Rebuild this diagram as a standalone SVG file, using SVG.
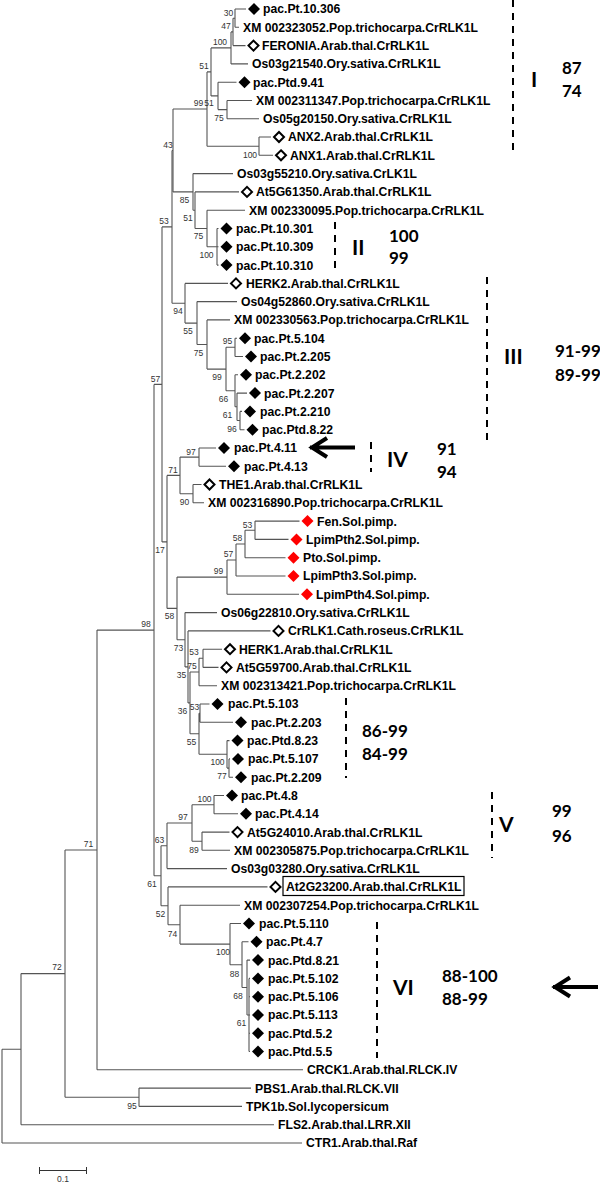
<svg xmlns="http://www.w3.org/2000/svg" xmlns:xlink="http://www.w3.org/1999/xlink" width="600" height="1182" viewBox="0 0 600 1182">
<style>
.lf{font-family:"Liberation Sans",Arial,sans-serif;font-weight:bold;font-size:12.2px;fill:#000}
.bs{font-family:"Liberation Sans",Arial,sans-serif;font-size:8.5px;fill:#333;text-anchor:middle}
.tr{fill:none;stroke:#555;stroke-width:1.1}
.cl{fill:none;stroke:#000;stroke-width:2;stroke-dasharray:7 6}
.rn{font-family:Lato,"Open Sans",sans-serif;font-weight:bold;font-size:21px;fill:#000}
.nm{font-family:Lato,"Open Sans",sans-serif;font-weight:bold;font-size:17px;fill:#000}
.f{fill:#000}
.o{fill:#fff;stroke:#000;stroke-width:2}
.r{fill:#f00}
</style>
<defs>
<path id="df" d="M0,-6L6,0L0,6L-6,0Z"/>
<path id="do" d="M0,-5L5,0L0,5L-5,0Z"/>
<path id="arr" d="M0,0H45M17,-9.5L2,0L17,9.5" fill="none" stroke="#000" stroke-width="4"/>
</defs>
<g id="connectors">
<path class="tr" d="M235,9V27.3M235,9H246M235,27.3H239 M233,18.2V45.6M233,18.2H235M233,45.6H245.5 M231,31.9V63.9M231,31.9H233M231,63.9H248 M227,100.5V118.7M227,100.5H252M227,118.7H259 M218,82.2V109.6M218,82.2H236.5M218,109.6H227 M211,47.9V95.9M211,47.9H231M211,95.9H218 M259,137V155.3M259,137H271M259,155.3H273 M207,71.9V146.2M207,71.9H211M207,146.2H259"/>
<path class="tr" d="M217,228.5V265.1M217,228.5H218.5M217,246.8H218.5M217,265.1H218.5 M207,210.2V246.8M207,210.2H245M207,246.8H217 M195,191.9V228.5M195,191.9H239M195,228.5H207 M193,173.6V210.2M193,173.6H233M193,210.2H195 M173,109V191.9M173,109H207M173,191.9H193"/>
<path class="tr" d="M235,338.2V356.5M235,338.2H237M235,356.5H243 M240,411.4V429.7M240,411.4H242M240,429.7H244.5 M237,393.1V420.5M237,393.1H247M237,420.5H240 M235,374.8V406.8M235,374.8H238M235,406.8H237 M226,347.3V390.8M226,347.3H235M226,390.8H235 M207,319.9V369.1M207,319.9H230M207,369.1H226 M197,301.6V344.5M197,301.6H237M197,344.5H207 M185,283.4V323.1M185,283.4H228M185,323.1H197 M172,150.5V303.2M172,150.5H173M172,303.2H185"/>
<path class="tr" d="M199,448V466.3M199,448H216M199,466.3H226 M193,484.5V502.8M193,484.5H201.5M193,502.8H204 M180,457.1V493.7M180,457.1H199M180,493.7H193"/>
<path class="tr" d="M255,521.1V539.4M255,521.1H299.5M255,539.4H288.5 M245,530.3V557.7M245,530.3H255M245,557.7H285.5 M236,544V576M236,544H245M236,576H285.5 M227,560V594.3M227,560H236M227,594.3H299"/>
<path class="tr" d="M203,649.2V667.4M203,649.2H222M203,667.4H218.5 M199,658.3V685.7M199,658.3H203M199,685.7H217 M200,704V722.3M200,704H209.5M200,722.3H233 M229,758.9V777.2M229,758.9H230M229,777.2H233 M227,740.6V768.1M227,740.6H229.5M227,768.1H229 M199,713.2V754.3M199,713.2H200M199,754.3H227 M190,672V733.8M190,672H199M190,733.8H199 M188,630.9V702.9M188,630.9H270.5M188,702.9H190 M185,612.6V666.9M185,612.6H217M185,666.9H188 M177,577.1V639.8M177,577.1H227M177,639.8H185 M167,475.4V608.4M167,475.4H180M167,608.4H177 M162,226.9V541.9M162,226.9H172M162,541.9H167"/>
<path class="tr" d="M214,795.5V813.8M214,795.5H224M214,813.8H238 M202,832.1V850.3M202,832.1H229.5M202,850.3H230 M192,804.7V841.2M192,804.7H214M192,841.2H202 M167,823V868.6M167,823H192M167,868.6H227"/>
<path class="tr" d="M249,978.4V1051.5M249,978.4H250M249,996.7H250M249,1015H250M249,1033.2H250M249,1051.5H250 M247,960.1V1015M247,960.1H250M247,1015H249 M242,941.8V987.5M242,941.8H248.5M242,987.5H247 M230,923.5V964.7M230,923.5H241M230,964.7H242 M180,905.2V944.1M180,905.2H240M180,944.1H230 M168,886.9V924.7M168,886.9H267.5M168,924.7H180 M161,845.8V905.8M161,845.8H167M161,905.8H168 M154,384.4V875.8M154,384.4H162M154,875.8H161"/>
<path class="tr" d="M97,630.1V1069.8M97,630.1H154M97,1069.8H303 M139,1088.1V1106.4M139,1088.1H251M139,1106.4H242 M65,850V1097.3M65,850H97M65,1097.3H139 M21,973.6V1124.7M21,973.6H65M21,1124.7H274 M2,1049.2V1143M2,1049.2H21M2,1143H302"/>
</g>
<g id="bootstrap">
<text class="bs" x="228.5" y="15.5">30</text>
<text class="bs" x="226" y="28.5">47</text>
<text class="bs" x="220" y="45">100</text>
<text class="bs" x="204" y="68.5">51</text>
<text class="bs" x="198.5" y="106">99</text>
<text class="bs" x="209" y="106">51</text>
<text class="bs" x="219" y="121">75</text>
<text class="bs" x="168" y="147.5">43</text>
<text class="bs" x="250" y="157.5">100</text>
<text class="bs" x="184.5" y="203">85</text>
<text class="bs" x="188" y="221">51</text>
<text class="bs" x="198.5" y="239">75</text>
<text class="bs" x="206.5" y="257.5">100</text>
<text class="bs" x="164" y="223.5">53</text>
<text class="bs" x="178" y="314">94</text>
<text class="bs" x="188" y="334">55</text>
<text class="bs" x="198.5" y="356">75</text>
<text class="bs" x="227.5" y="344">95</text>
<text class="bs" x="217" y="380">99</text>
<text class="bs" x="155.5" y="382">57</text>
<text class="bs" x="223.5" y="401.5">66</text>
<text class="bs" x="227.5" y="418">61</text>
<text class="bs" x="232" y="432">96</text>
<text class="bs" x="191" y="454.5">97</text>
<text class="bs" x="173" y="472.5">71</text>
<text class="bs" x="184.5" y="504.5">90</text>
<text class="bs" x="160" y="553">17</text>
<text class="bs" x="247.5" y="527.5">53</text>
<text class="bs" x="237.5" y="541">58</text>
<text class="bs" x="228.5" y="557">57</text>
<text class="bs" x="218.5" y="574">99</text>
<text class="bs" x="146" y="627">98</text>
<text class="bs" x="169.5" y="619">58</text>
<text class="bs" x="178.5" y="651">73</text>
<text class="bs" x="194" y="655">53</text>
<text class="bs" x="192" y="669">75</text>
<text class="bs" x="181.5" y="678">35</text>
<text class="bs" x="182.5" y="713.5">36</text>
<text class="bs" x="194.5" y="710">53</text>
<text class="bs" x="191.5" y="745">55</text>
<text class="bs" x="217.5" y="765">100</text>
<text class="bs" x="222" y="779">77</text>
<text class="bs" x="88.5" y="847">71</text>
<text class="bs" x="204.5" y="802">100</text>
<text class="bs" x="183" y="820">97</text>
<text class="bs" x="159.5" y="843">63</text>
<text class="bs" x="194" y="853">89</text>
<text class="bs" x="152" y="887">61</text>
<text class="bs" x="160.5" y="917">52</text>
<text class="bs" x="172.5" y="937">74</text>
<text class="bs" x="223" y="955">100</text>
<text class="bs" x="234.5" y="977">88</text>
<text class="bs" x="238" y="999">68</text>
<text class="bs" x="241.5" y="1026">61</text>
<text class="bs" x="57" y="970">72</text>
<text class="bs" x="132" y="1109">95</text>
</g>
<g id="L01"><use href="#df" class="f" x="254" y="9"/><text class="lf" x="263" y="13.4">pac.Pt.10.306</text></g>
<g id="L02"><text class="lf" x="243" y="31.7">XM 002323052.Pop.trichocarpa.CrRLK1L</text></g>
<g id="L03"><use href="#do" class="o" x="253.5" y="45.6"/><text class="lf" x="262" y="50">FERONIA.Arab.thal.CrRLK1L</text></g>
<g id="L04"><text class="lf" x="252" y="68.3">Os03g21540.Ory.sativa.CrRLK1L</text></g>
<g id="L05"><use href="#df" class="f" x="244.5" y="82.2"/><text class="lf" x="253" y="86.6">pac.Ptd.9.41</text></g>
<g id="L06"><text class="lf" x="256" y="104.9">XM 002311347.Pop.trichocarpa.CrRLK1L</text></g>
<g id="L07"><text class="lf" x="263" y="123.1">Os05g20150.Ory.sativa.CrRLK1L</text></g>
<g id="L08"><use href="#do" class="o" x="279" y="137"/><text class="lf" x="288" y="141.4">ANX2.Arab.thal.CrRLK1L</text></g>
<g id="L09"><use href="#do" class="o" x="281" y="155.3"/><text class="lf" x="290" y="159.7">ANX1.Arab.thal.CrRLK1L</text></g>
<g id="L10"><text class="lf" x="237" y="178">Os03g55210.Ory.sativa.CrLK1L</text></g>
<g id="L11"><use href="#do" class="o" x="247" y="191.9"/><text class="lf" x="256" y="196.3">At5G61350.Arab.thal.CrRLK1L</text></g>
<g id="L12"><text class="lf" x="249" y="214.6">XM 002330095.Pop.trichocarpa.CrRLK1L</text></g>
<g id="L13"><use href="#df" class="f" x="226.5" y="228.5"/><text class="lf" x="236" y="232.9">pac.Pt.10.301</text></g>
<g id="L14"><use href="#df" class="f" x="226.5" y="246.8"/><text class="lf" x="236" y="251.2">pac.Pt.10.309</text></g>
<g id="L15"><use href="#df" class="f" x="226.5" y="265.1"/><text class="lf" x="236" y="269.5">pac.Pt.10.310</text></g>
<g id="L16"><use href="#do" class="o" x="236" y="283.4"/><text class="lf" x="246" y="287.8">HERK2.Arab.thal.CrRLK1L</text></g>
<g id="L17"><text class="lf" x="241" y="306">Os04g52860.Ory.sativa.CrRLK1L</text></g>
<g id="L18"><text class="lf" x="234" y="324.3">XM 002330563.Pop.trichocarpa.CrRLK1L</text></g>
<g id="L19"><use href="#df" class="f" x="245" y="338.2"/><text class="lf" x="254" y="342.6">pac.Pt.5.104</text></g>
<g id="L20"><use href="#df" class="f" x="251" y="356.5"/><text class="lf" x="260" y="360.9">pac.Pt.2.205</text></g>
<g id="L21"><use href="#df" class="f" x="246" y="374.8"/><text class="lf" x="255" y="379.2">pac.Pt.2.202</text></g>
<g id="L22"><use href="#df" class="f" x="255" y="393.1"/><text class="lf" x="264" y="397.5">pac.Pt.2.207</text></g>
<g id="L23"><use href="#df" class="f" x="250" y="411.4"/><text class="lf" x="260" y="415.8">pac.Pt.2.210</text></g>
<g id="L24"><use href="#df" class="f" x="252.5" y="429.7"/><text class="lf" x="262" y="434.1">pac.Ptd.8.22</text></g>
<g id="L25"><use href="#df" class="f" x="224" y="448"/><text class="lf" x="234" y="452.4">pac.Pt.4.11</text></g>
<g id="L26"><use href="#df" class="f" x="234" y="466.3"/><text class="lf" x="244" y="470.7">pac.Pt.4.13</text></g>
<g id="L27"><use href="#do" class="o" x="209.5" y="484.5"/><text class="lf" x="219" y="488.9">THE1.Arab.thal.CrRLK1L</text></g>
<g id="L28"><text class="lf" x="208" y="507.2">XM 002316890.Pop.trichocarpa.CrRLK1L</text></g>
<g id="L29"><use href="#df" class="r" x="307.5" y="521.1"/><text class="lf" x="317" y="525.5">Fen.Sol.pimp.</text></g>
<g id="L30"><use href="#df" class="r" x="296.5" y="539.4"/><text class="lf" x="306" y="543.8">LpimPth2.Sol.pimp.</text></g>
<g id="L31"><use href="#df" class="r" x="293.5" y="557.7"/><text class="lf" x="303" y="562.1">Pto.Sol.pimp.</text></g>
<g id="L32"><use href="#df" class="r" x="293.5" y="576"/><text class="lf" x="303" y="580.4">LpimPth3.Sol.pimp.</text></g>
<g id="L33"><use href="#df" class="r" x="307" y="594.3"/><text class="lf" x="316" y="598.7">LpimPth4.Sol.pimp.</text></g>
<g id="L34"><text class="lf" x="221" y="617">Os06g22810.Ory.sativa.CrRLK1L</text></g>
<g id="L35"><use href="#do" class="o" x="278.5" y="630.9"/><text class="lf" x="288" y="635.3">CrRLK1.Cath.roseus.CrRLK1L</text></g>
<g id="L36"><use href="#do" class="o" x="230" y="649.2"/><text class="lf" x="239" y="653.6">HERK1.Arab.thal.CrRLK1L</text></g>
<g id="L37"><use href="#do" class="o" x="226.5" y="667.4"/><text class="lf" x="236" y="671.8">At5G59700.Arab.thal.CrRLK1L</text></g>
<g id="L38"><text class="lf" x="221" y="690.1">XM 002313421.Pop.trichocarpa.CrRLK1L</text></g>
<g id="L39"><use href="#df" class="f" x="217.5" y="704"/><text class="lf" x="228" y="708.4">pac.Pt.5.103</text></g>
<g id="L40"><use href="#df" class="f" x="241" y="722.3"/><text class="lf" x="251" y="726.7">pac.Pt.2.203</text></g>
<g id="L41"><use href="#df" class="f" x="237.5" y="740.6"/><text class="lf" x="247" y="745">pac.Ptd.8.23</text></g>
<g id="L42"><use href="#df" class="f" x="238" y="758.9"/><text class="lf" x="248" y="763.3">pac.Pt.5.107</text></g>
<g id="L43"><use href="#df" class="f" x="241" y="777.2"/><text class="lf" x="251" y="781.6">pac.Pt.2.209</text></g>
<g id="L44"><use href="#df" class="f" x="232" y="795.5"/><text class="lf" x="241" y="799.9">pac.Pt.4.8</text></g>
<g id="L45"><use href="#df" class="f" x="246" y="813.8"/><text class="lf" x="255" y="818.2">pac.Pt.4.14</text></g>
<g id="L46"><use href="#do" class="o" x="237.5" y="832.1"/><text class="lf" x="247" y="836.5">At5G24010.Arab.thal.CrRLK1L</text></g>
<g id="L47"><text class="lf" x="234" y="854.7">XM 002305875.Pop.trichocarpa.CrRLK1L</text></g>
<g id="L48"><text class="lf" x="231" y="873">Os03g03280.Ory.sativa.CrRLK1L</text></g>
<g id="L49"><use href="#do" class="o" x="275.5" y="886.9"/><rect x="283" y="876.5" width="181" height="19" fill="none" stroke="#000" stroke-width="1.2"/><text class="lf" x="286" y="891.3">At2G23200.Arab.thal.CrRLK1L</text></g>
<g id="L50"><text class="lf" x="244" y="909.6">XM 002307254.Pop.trichocarpa.CrRLK1L</text></g>
<g id="L51"><use href="#df" class="f" x="249" y="923.5"/><text class="lf" x="259" y="927.9">pac.Pt.5.110</text></g>
<g id="L52"><use href="#df" class="f" x="256.5" y="941.8"/><text class="lf" x="266" y="946.2">pac.Pt.4.7</text></g>
<g id="L53"><use href="#df" class="f" x="258" y="960.1"/><text class="lf" x="268" y="964.5">pac.Ptd.8.21</text></g>
<g id="L54"><use href="#df" class="f" x="258" y="978.4"/><text class="lf" x="268" y="982.8">pac.Pt.5.102</text></g>
<g id="L55"><use href="#df" class="f" x="258" y="996.7"/><text class="lf" x="268" y="1001.1">pac.Pt.5.106</text></g>
<g id="L56"><use href="#df" class="f" x="258" y="1015"/><text class="lf" x="268" y="1019.4">pac.Pt.5.113</text></g>
<g id="L57"><use href="#df" class="f" x="258" y="1033.2"/><text class="lf" x="268" y="1037.6">pac.Ptd.5.2</text></g>
<g id="L58"><use href="#df" class="f" x="258" y="1051.5"/><text class="lf" x="268" y="1055.9">pac.Ptd.5.5</text></g>
<g id="L59"><text class="lf" x="307" y="1074.2">CRCK1.Arab.thal.RLCK.IV</text></g>
<g id="L60"><text class="lf" x="255" y="1092.5">PBS1.Arab.thal.RLCK.VII</text></g>
<g id="L61"><text class="lf" x="246" y="1110.8">TPK1b.Sol.lycopersicum</text></g>
<g id="L62"><text class="lf" x="278" y="1129.1">FLS2.Arab.thal.LRR.XII</text></g>
<g id="L63"><text class="lf" x="306" y="1147.4">CTR1.Arab.thal.Raf</text></g>
<g id="clades">
<path class="cl" d="M513,0V155 M335,222V272 M487,277V442 M371,442V472 M346,698V778 M492,792V858 M377,922V1058"/>
<text class="rn" x="531" y="87">I</text>
<text class="nm" x="562" y="74">87</text>
<text class="nm" x="562" y="97">74</text>
<text class="rn" x="352" y="255">II</text>
<text class="nm" x="389" y="242">100</text>
<text class="nm" x="389" y="264">99</text>
<text class="rn" x="504" y="364">III</text>
<text class="nm" x="555" y="357">91-99</text>
<text class="nm" x="555" y="381">89-99</text>
<text class="rn" x="387" y="467">IV</text>
<text class="nm" x="437" y="455">91</text>
<text class="nm" x="437" y="478">94</text>
<text class="nm" x="362" y="737">86-99</text>
<text class="nm" x="362" y="760">84-99</text>
<text class="rn" x="499" y="832">V</text>
<text class="nm" x="552" y="817">99</text>
<text class="nm" x="552" y="842">96</text>
<text class="rn" x="393" y="995">VI</text>
<text class="nm" x="442" y="982">88-100</text>
<text class="nm" x="442" y="1005">88-99</text>
<use href="#arr" x="310" y="447.5"/>
<use href="#arr" x="553" y="987"/>
</g>
<g id="scale">
<path d="M39.5,1170.5H86.5M39.5,1167V1174M86.5,1167V1174" fill="none" stroke="#333" stroke-width="1"/>
<text class="bs" x="63" y="1181.5">0.1</text>
</g>
</svg>
